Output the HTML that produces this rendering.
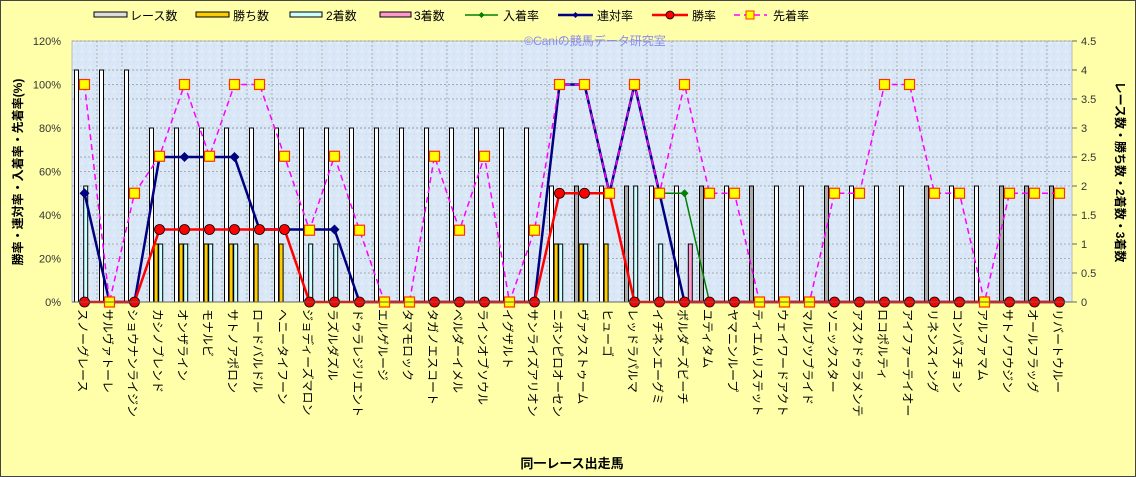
<!DOCTYPE html>
<html><head><meta charset="utf-8"><style>
body{margin:0;background:#fff;}
svg{display:block;font-family:"Liberation Sans","Noto Sans CJK JP",sans-serif;}
</style></head><body>
<svg id="c" width="1136" height="477" xmlns="http://www.w3.org/2000/svg">
<rect x="0.5" y="0.5" width="1135" height="476" fill="#ffffaa" stroke="#444" stroke-width="1"/>
<defs><pattern id="bgp" width="8" height="8" patternUnits="userSpaceOnUse"><rect width="8" height="8" fill="#d9e7f7"/><circle cx="2" cy="3" r="1.2" fill="#e6eefb"/><circle cx="6" cy="6" r="1" fill="#cfdff2"/></pattern></defs>
<rect x="72" y="41" width="1000" height="261" fill="url(#bgp)" stroke="#bbb"/>
<g id="grid"></g><g id="bars"></g><g id="lines"></g><g id="axes"></g>
<text x="595" y="45" font-size="12" fill="#8a8cf0" text-anchor="middle">©Caniの競馬データ研究室</text>
<text x="572" y="468" font-size="13" font-weight="bold" text-anchor="middle">同一レース出走馬</text>
<text transform="translate(22,172) rotate(-90)" font-size="12" font-weight="bold" text-anchor="middle">勝率・連対率・入着率・先着率(%)</text>
<text transform="translate(1116,172) rotate(90)" font-size="12" font-weight="bold" text-anchor="middle">レース数・勝ち数・2着数・3着数</text>
<g id="legend">
<g><rect x="94" y="12" width="33" height="5" fill="#ddd" stroke="#000"/><text x="130" y="20" font-size="12">レース数</text></g>
<g><rect x="196" y="12" width="33" height="5" fill="#ffcc00" stroke="#000"/><text x="233" y="20" font-size="12">勝ち数</text></g>
<g><rect x="290" y="12" width="32" height="5" fill="#ccffff" stroke="#000"/><text x="326" y="20" font-size="12">2着数</text></g>
<g><rect x="380" y="12" width="31" height="5" fill="#ff99cc" stroke="#000"/><text x="414" y="20" font-size="12">3着数</text></g>
<g><line x1="465" y1="15" x2="498" y2="15" stroke="#008000" stroke-width="1.5"/><path d="M481.5 12 L484.5 15 L481.5 18 L478.5 15Z" fill="#008000"/><text x="503" y="20" font-size="12">入着率</text></g>
<g><line x1="558" y1="15" x2="593" y2="15" stroke="#000080" stroke-width="2.5"/><path d="M575.5 12 L578.5 15 L575.5 18 L572.5 15Z" fill="#000080"/><text x="597" y="20" font-size="12">連対率</text></g>
<g><line x1="652" y1="15" x2="688" y2="15" stroke="#ff0000" stroke-width="2.5"/><circle cx="670" cy="15" r="4" fill="#ff0000" stroke="#000" stroke-width="0.8"/><text x="692" y="20" font-size="12">勝率</text></g>
<g><line x1="734" y1="15" x2="767" y2="15" stroke="#ff00ff" stroke-width="1.5" stroke-dasharray="6,4"/><rect x="746" y="11" width="8" height="8" fill="#ffff00" stroke="#ff3300"/><text x="773" y="20" font-size="12">先着率</text></g>
</g>
</svg>
<script>
const names=["スノーグレース","サルヴァトーレ","ショウナンライジン","カシノブレンド","オンザライン","モナルビ","サトノアポロン","ロードバルドル","ヘニータイフーン","ジョディーズマロン","ラズルダズル","ドゥラレジリエント","エルゲルージ","タマモロック","タガノエスコート","ベルダーイメル","ラインオブソウル","イグザルト","サンライズアリオン","ニホンピロオーセン","ヴァクストゥーム","ヒューゴ","レッドラパルマ","イチネンエーグミ","ボルダーズビーチ","ユティタム","ヤマニンループ","ティエムリステット","ウェイワードアクト","マルブツブライド","ソニックスター","アスクドゥラメンテ","ロコポルティ","アイファーテイオー","リネンスイング","コンパスチョン","アルファマム","サトノワウジン","オールフラッグ","リバートウルー"];
const races=[4,4,4,3,3,3,3,3,3,3,3,3,3,3,3,3,3,3,3,2,2,2,2,2,2,2,2,2,2,2,2,2,2,2,2,2,2,2,2,2];
const wins=[0,0,0,1,1,1,1,1,1,0,0,0,0,0,0,0,0,0,0,1,1,1,0,0,0,0,0,0,0,0,0,0,0,0,0,0,0,0,0,0];
const seconds=[2,0,0,1,1,1,1,0,0,1,1,0,0,0,0,0,0,0,0,1,1,0,2,1,0,0,0,0,0,0,0,0,0,0,0,0,0,0,0,0];
const thirds=[0,0,0,0,0,0,0,0,0,0,0,0,0,0,0,0,0,0,0,0,0,0,0,0,1,0,0,0,0,0,0,0,0,0,0,0,0,0,0,0];
const grayRace=[0,0,0,0,0,0,0,0,0,0,0,0,0,0,0,0,0,0,0,0,1,0,1,0,0,1,0,1,0,0,1,0,0,0,1,0,0,1,1,1];
const leadRate=[100,0,50,67,100,67,100,100,67,33,67,33,0,0,67,33,67,0,33,100,100,50,100,50,100,50,50,0,0,0,50,50,100,100,50,50,0,50,50,50];
const leftTicks=["0%","20%","40%","60%","80%","100%","120%"];
const rightTicks=["0","0.5","1","1.5","2","2.5","3","3.5","4","4.5"];
const winRate=races.map((r,i)=>wins[i]/r*100);
const rentaiRate=races.map((r,i)=>(wins[i]+seconds[i])/r*100);
const placeRate=races.map((r,i)=>(wins[i]+seconds[i]+thirds[i])/r*100);
const NS="http://www.w3.org/2000/svg";
const X0=72,W=1000,Y0=302,H=261,n=names.length,cw=W/n;
const yL=v=>Y0-v/120*H, yR=v=>Y0-v/4.5*H, xc=i=>X0+cw*(i+0.5);
function mk(t,a,p){const e=document.createElementNS(NS,t);for(const k in a)e.setAttribute(k,a[k]);p.appendChild(e);return e;}
const g=document.getElementById('grid'),b=document.getElementById('bars'),l=document.getElementById('lines'),ax=document.getElementById('axes');
for(let i=1;i<n;i++){const e=mk('line',{x1:X0+cw*i,x2:X0+cw*i,y1:41,y2:302,stroke:'#999','stroke-dasharray':'2,2','stroke-width':0.7},g);

}
rightTicks.forEach((t,k)=>{const y=yR(+t);const e=mk('line',{x1:X0,x2:X0+W,y1:y,y2:y,stroke:'#999','stroke-dasharray':'2,2','stroke-width':0.7},g);


const tx=mk('text',{x:1081,y:y+4,'font-size':11,fill:'#333'},ax);tx.textContent=t;


mk('line',{x1:1072,x2:1077,y1:y,y2:y,stroke:'#666'},ax);});
leftTicks.forEach((t,k)=>{const y=yL(k*20);const e=mk('line',{x1:X0,x2:X0+W,y1:y,y2:y,stroke:'#999','stroke-dasharray':'2,2','stroke-width':0.7},g);


const tx=mk('text',{x:61,y:y+4,'font-size':11,fill:'#333','text-anchor':'end'},ax);tx.textContent=t;

});
mk('line',{x1:X0,x2:X0+W,y1:Y0,y2:Y0,stroke:'#666'},ax);
const series=[[races,'#ffffff','race-bar'],[wins,'#ffcc00','win-bar'],[seconds,'#ccffff','second-bar'],[thirds,'#ff99cc','third-bar']];
for(let i=0;i<n;i++){
 series.forEach((s,k)=>{const v=s[0][i];if(!v)return;
  let fill=s[1];if(k===0&&grayRace[i])fill='#aaaaaa';
  const x=X0+cw*i+2.5+k*4.6;
  const r=mk('rect',{x:x,y:yR(v),width:4,height:Y0-yR(v),fill:fill,stroke:'#000','stroke-width':1},b);
  
  });
 const t=mk('text',{transform:`translate(${xc(i)-6},309) rotate(90)`,'font-size':12},ax);t.textContent=names[i];
 
 
}
function line(vals,color,w,dash,name){const pts=vals.map((v,i)=>xc(i)+','+yL(v)).join(' ');
 const p=mk('polyline',{points:pts,fill:'none',stroke:color,'stroke-width':w},l);if(dash)p.setAttribute('stroke-dasharray',dash);
 
 }
line(placeRate,'#008000',1.5,null,'place-rate-line');
placeRate.forEach((v,i)=>{const x=xc(i),y=yL(v);const m=mk('path',{d:`M${x} ${y-4}L${x+4} ${y}L${x} ${y+4}L${x-4} ${y}Z`,fill:'#008000'},l);

});
line(rentaiRate,'#000080',2.5,null,'rentai-rate-line');
rentaiRate.forEach((v,i)=>{const x=xc(i),y=yL(v);const m=mk('path',{d:`M${x} ${y-5}L${x+5} ${y}L${x} ${y+5}L${x-5} ${y}Z`,fill:'#000080'},l);

});
line(leadRate,'#ff00ff',1.5,'6,4','lead-rate-line');
line(winRate,'#ff0000',2.5,null,'win-rate-line');
winRate.forEach((v,i)=>{const m=mk('circle',{cx:xc(i),cy:yL(v),r:5,fill:'#ff0000',stroke:'#000','stroke-width':0.8},l);

});
leadRate.forEach((v,i)=>{const m=mk('rect',{x:xc(i)-5,y:yL(v)-5,width:10,height:10,fill:'#ffff00',stroke:'#ff3300','stroke-width':1.2},l);

});
</script>
</body></html>
